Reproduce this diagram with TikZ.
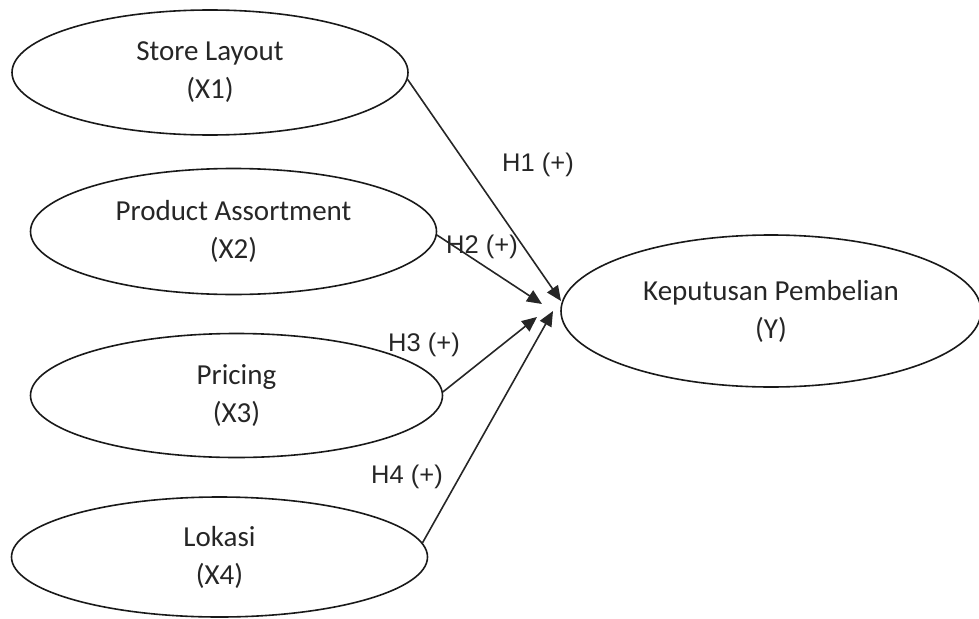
\documentclass[tikz,border=0pt]{standalone}
\usepackage{fontspec}
\setmainfont{Carlito}
\newfontfamily\labfont{Liberation Sans}
\usetikzlibrary{shapes.geometric,arrows.meta}
\tikzset{
  var/.style={ellipse, draw=black!90, line width=1.6pt, inner sep=0pt, align=center,
    font=\fontsize{29}{38}\selectfont, text=black!85},
  arr/.style={line width=1.6pt, draw=black!85, -{Triangle[length=15pt,width=13pt]}},
  hlab/.style={font=\labfont\fontsize{25.5}{28}\selectfont, text=black!85, inner sep=0pt}
}
\begin{document}
\begin{tikzpicture}[x=1pt,y=-1pt]
\useasboundingbox (0,0) rectangle (979,618);
\node[var, minimum width=396pt, minimum height=125pt] (e1) at (210,72.5) {Store Layout\\(X1)};
\node[var, minimum width=406pt, minimum height=126pt] (e2) at (233.5,231.5) {Product Assortment\\(X2)};
\node[var, minimum width=412pt, minimum height=124pt] (e3) at (236.5,395.5) {Pricing\\(X3)};
\node[var, minimum width=416pt, minimum height=120pt] (e4) at (219.5,557) {Lokasi\\(X4)};
\node[var, minimum width=420pt, minimum height=152pt] (y) at (771,311) {Keputusan Pembelian\\(Y)};
\coordinate (t1) at (561,301);
\coordinate (t2) at (542,304);
\coordinate (t3) at (537,317);
\coordinate (t4) at (553,311);
\draw[arr] (e1.-2) -- (t1);
\draw[arr] (e2.-1.5) -- (t2);
\draw[arr] (e3.1) -- (t3);
\draw[arr] (e4.4) -- (t4);
\node[hlab] (l1) at (538,165) {H1 (+)};
\node[hlab] (l2) at (482,247) {H2 (+)};
\node[hlab] (l3) at (424,345) {H3 (+)};
\node[hlab] (l4) at (407,477) {H4 (+)};
\end{tikzpicture}
\end{document}
